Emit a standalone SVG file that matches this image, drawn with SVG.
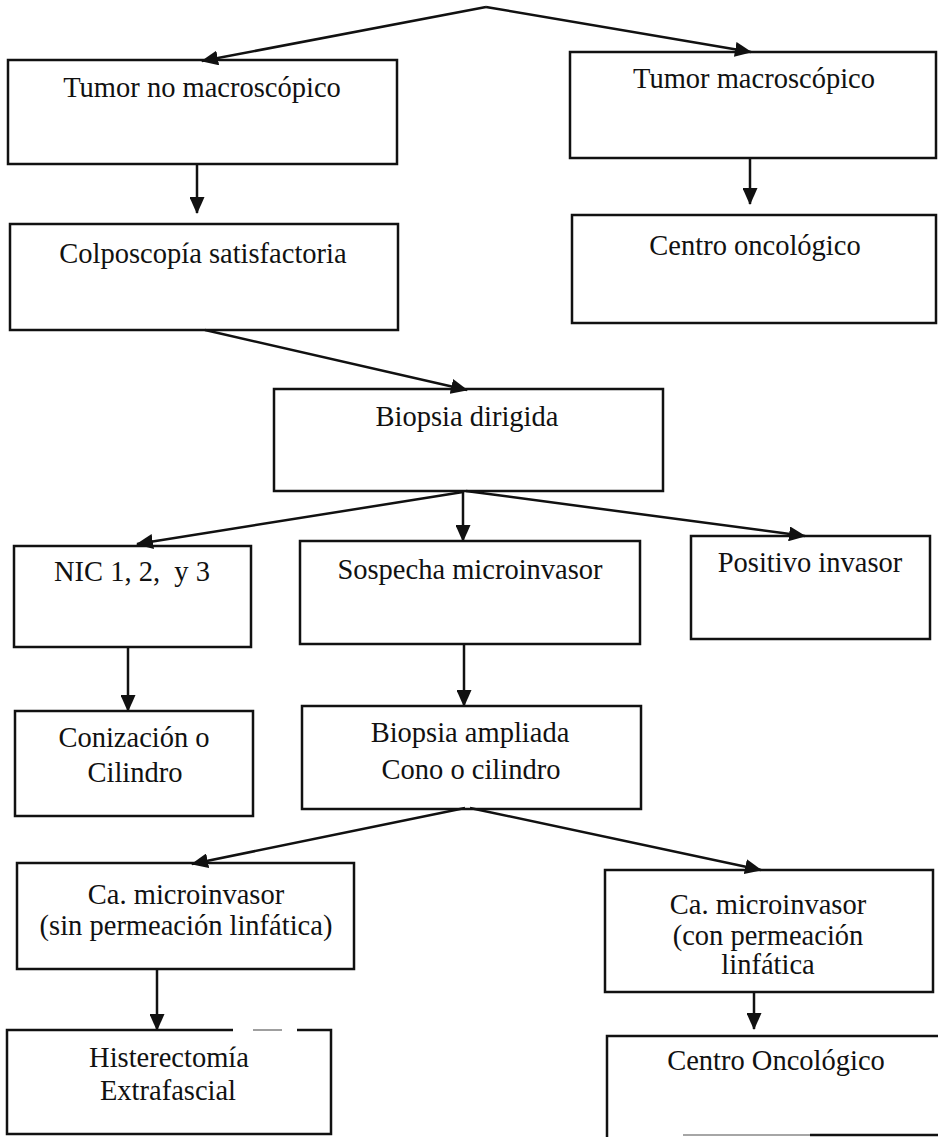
<svg xmlns="http://www.w3.org/2000/svg" width="938" height="1137" viewBox="0 0 938 1137">
  <style>
    .box { fill: none; stroke: #111; stroke-width: 2.5; }
    .edge { fill: none; stroke: #111; stroke-width: 2.5; }
    .faint { fill: none; stroke: #888; stroke-width: 1.6; }
    .lbl { font-family: "Liberation Serif", "Times New Roman", serif; font-size: 28.5px; fill: #111; text-anchor: middle; }
    .conn { fill: none; stroke: #111; stroke-width: 2.5; }
  </style>
  <defs>
    <marker id="ah" viewBox="0 0 17 15" refX="16" refY="7.5" markerWidth="17" markerHeight="15" markerUnits="userSpaceOnUse" orient="auto">
      <path d="M0,0 L17,7.5 L0,15 z" fill="#111"/>
    </marker>
  </defs>
  <rect width="938" height="1137" fill="#fff"/>

  <!-- connectors -->
  <g id="connectors">
    <line class="conn" x1="486" y1="7" x2="202" y2="61" marker-end="url(#ah)"/>
    <line class="conn" x1="486" y1="7" x2="751" y2="52" marker-end="url(#ah)"/>
    <line class="conn" x1="197" y1="164" x2="197" y2="213" marker-end="url(#ah)"/>
    <line class="conn" x1="750" y1="158" x2="750" y2="204" marker-end="url(#ah)"/>
    <line class="conn" x1="205" y1="330" x2="467" y2="390" marker-end="url(#ah)"/>
    <line class="conn" x1="463" y1="492" x2="137" y2="544" marker-end="url(#ah)"/>
    <line class="conn" x1="463" y1="491" x2="463" y2="541" marker-end="url(#ah)"/>
    <line class="conn" x1="466" y1="491" x2="805" y2="536" marker-end="url(#ah)"/>
    <line class="conn" x1="128" y1="647" x2="128" y2="711" marker-end="url(#ah)"/>
    <line class="conn" x1="464" y1="644" x2="464" y2="706" marker-end="url(#ah)"/>
    <line class="conn" x1="465" y1="808" x2="192" y2="864" marker-end="url(#ah)"/>
    <line class="conn" x1="470" y1="808" x2="761" y2="870" marker-end="url(#ah)"/>
    <line class="conn" x1="157" y1="969" x2="157" y2="1030" marker-end="url(#ah)"/>
    <line class="conn" x1="754" y1="992" x2="754" y2="1029" marker-end="url(#ah)"/>
  </g>

  <g id="tumor-no-macroscopico">
    <rect class="box" x="8" y="60" width="389" height="104"/>
    <text class="lbl" x="202" y="97">Tumor no macroscópico</text>
  </g>
  <g id="tumor-macroscopico">
    <rect class="box" x="570" y="52" width="366" height="106"/>
    <text class="lbl" x="754" y="88">Tumor macroscópico</text>
  </g>
  <g id="colposcopia">
    <rect class="box" x="10" y="224" width="388" height="106"/>
    <text class="lbl" x="203" y="263">Colposcopía satisfactoria</text>
  </g>
  <g id="centro-oncologico-1">
    <rect class="box" x="572" y="215" width="364" height="108"/>
    <text class="lbl" x="755" y="255">Centro oncológico</text>
  </g>
  <g id="biopsia-dirigida">
    <rect class="box" x="274" y="389" width="389" height="102"/>
    <text class="lbl" x="467" y="426">Biopsia dirigida</text>
  </g>
  <g id="nic">
    <rect class="box" x="14" y="546" width="237" height="101"/>
    <text class="lbl" x="132" y="581" xml:space="preserve">NIC 1, 2,  y 3</text>
  </g>
  <g id="sospecha-microinvasor">
    <rect class="box" x="300" y="541" width="340" height="103"/>
    <text class="lbl" x="470" y="579">Sospecha microinvasor</text>
  </g>
  <g id="positivo-invasor">
    <rect class="box" x="691" y="536" width="239" height="103"/>
    <text class="lbl" x="810" y="572">Positivo invasor</text>
  </g>
  <g id="conizacion">
    <rect class="box" x="15" y="711" width="238" height="105"/>
    <text class="lbl" x="134" y="747">Conización o</text>
    <text class="lbl" x="135" y="782">Cilindro</text>
  </g>
  <g id="biopsia-ampliada">
    <rect class="box" x="302" y="706" width="339" height="103"/>
    <text class="lbl" x="470" y="742">Biopsia ampliada</text>
    <text class="lbl" x="471" y="779">Cono o cilindro</text>
  </g>
  <g id="ca-sin-permeacion">
    <rect class="box" x="17" y="863" width="337" height="106"/>
    <text class="lbl" x="186" y="904">Ca. microinvasor</text>
    <text class="lbl" x="186" y="935">(sin permeación linfática)</text>
  </g>
  <g id="ca-con-permeacion">
    <rect class="box" x="605" y="870" width="328" height="122"/>
    <text class="lbl" x="768" y="914">Ca. microinvasor</text>
    <text class="lbl" x="768" y="945">(con permeación</text>
    <text class="lbl" x="768" y="974">linfática</text>
  </g>
  <g id="histerectomia">
    <path class="edge" d="M233,1030 H7 V1134 H331 V1030 H320"/>
    <line class="faint" x1="253" y1="1030" x2="282" y2="1030"/>
    <line class="edge" x1="297" y1="1030" x2="320" y2="1030"/>
    <text class="lbl" x="169" y="1067">Histerectomía</text>
    <text class="lbl" x="168" y="1100">Extrafascial</text>
  </g>
  <g id="centro-oncologico-2">
    <path class="edge" d="M938,1036 H607 V1137"/>
    <line class="faint" x1="683" y1="1135" x2="810" y2="1135"/>
    <line class="edge" x1="810" y1="1135" x2="938" y2="1135"/>
    <text class="lbl" x="776" y="1070">Centro Oncológico</text>
  </g>
</svg>
